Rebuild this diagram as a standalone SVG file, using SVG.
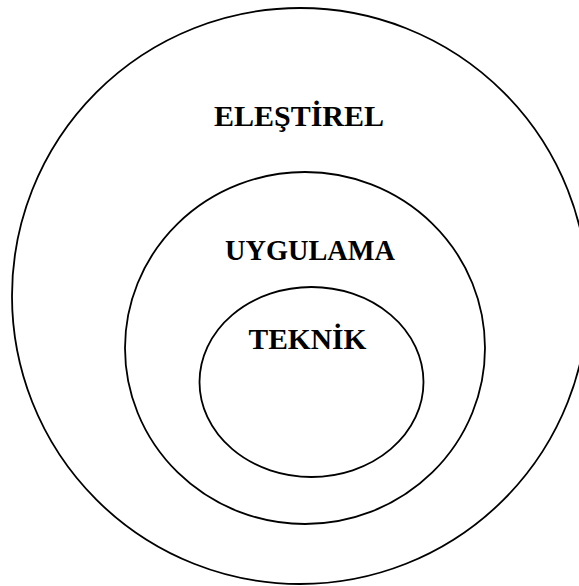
<svg xmlns="http://www.w3.org/2000/svg" width="579" height="586" viewBox="0 0 579 586">
<style>
.ring{fill:none;stroke:#000;stroke-width:1.8}
.lbl{font-family:"Liberation Serif","Times New Roman",serif;font-weight:bold;font-size:29px;fill:#000;text-anchor:middle}
</style>
<rect width="579" height="586" fill="#fff"/>
<g id="outer">
<circle class="ring" cx="300" cy="296" r="288"/>
<text class="lbl" x="299" y="126" textLength="170" lengthAdjust="spacingAndGlyphs">ELEŞTİREL</text>
</g>
<g id="middle">
<ellipse class="ring" cx="305" cy="348" rx="180" ry="176"/>
<text class="lbl" x="310" y="260" textLength="170" lengthAdjust="spacingAndGlyphs">UYGULAMA</text>
</g>
<g id="inner">
<ellipse class="ring" cx="311.5" cy="382" rx="112" ry="95"/>
<text class="lbl" x="307.5" y="349" textLength="118" lengthAdjust="spacingAndGlyphs">TEKNİK</text>
</g>
<g id="connectors"/>
</svg>
